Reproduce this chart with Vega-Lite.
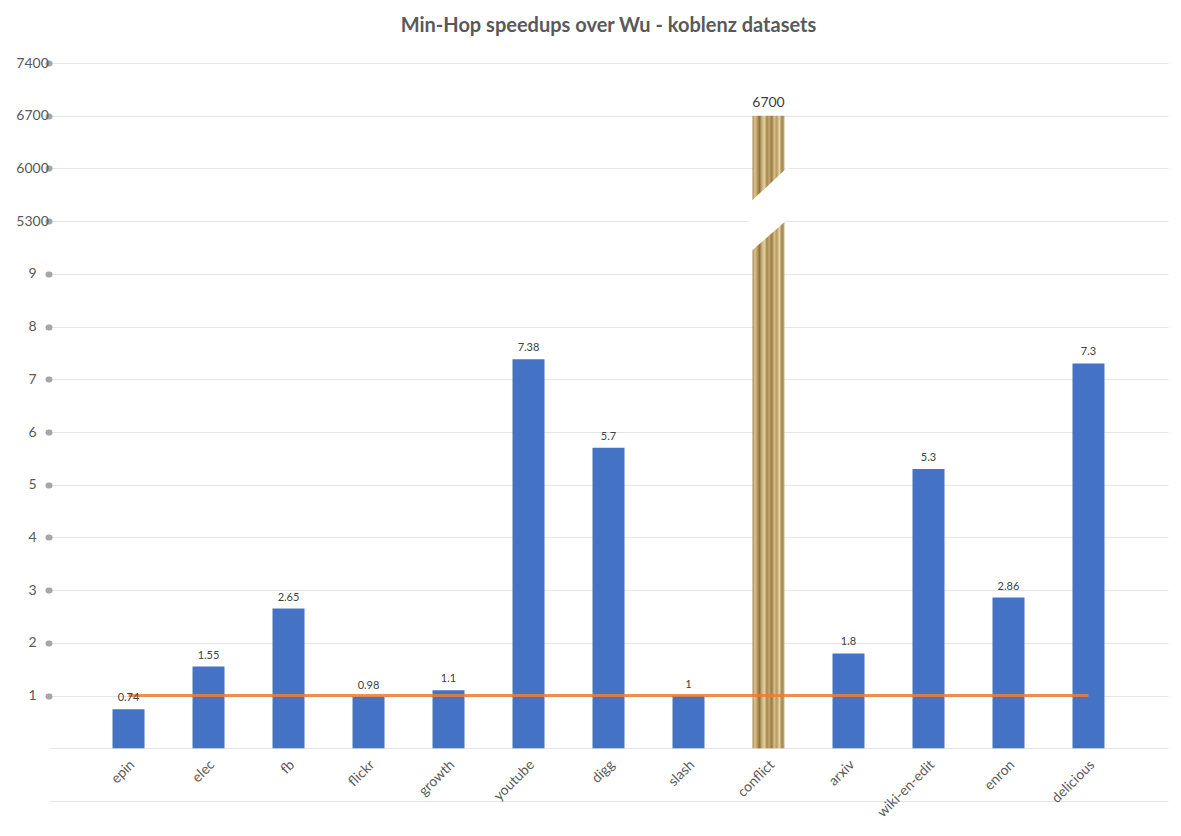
{
  "$schema": "https://vega.github.io/schema/vega-lite/v6.json",
  "width": 1119,
  "height": 738,
  "autosize": "none",
  "padding": {"left": 49, "top": 63, "right": 13, "bottom": 35},
  "background": "white",
  "title": {
    "text": "Min-Hop speedups over Wu - koblenz datasets",
    "font": "Lato",
    "fontSize": 20,
    "fontWeight": "bold",
    "color": "#595959",
    "anchor": "middle",
    "offset": 20
  },
  "config": {
    "view": {"stroke": null},
    "axis": {"labelFont": "Lato", "labelColor": "#595959", "labelFontSize": 14}
  },
  "data": {
    "values": [
      {"dataset": "epin", "speedup": 0.74},
      {"dataset": "elec", "speedup": 1.55},
      {"dataset": "fb", "speedup": 2.65},
      {"dataset": "flickr", "speedup": 0.98},
      {"dataset": "growth", "speedup": 1.1},
      {"dataset": "youtube", "speedup": 7.38},
      {"dataset": "digg", "speedup": 5.7},
      {"dataset": "slash", "speedup": 1},
      {"dataset": "conflict", "speedup": 6700},
      {"dataset": "arxiv", "speedup": 1.8},
      {"dataset": "wiki-en-edit", "speedup": 5.3},
      {"dataset": "enron", "speedup": 2.86},
      {"dataset": "delicious", "speedup": 7.3}
    ]
  },
  "transform": [
    {"calculate": "datum.speedup > 9 ? 9 + (datum.speedup - 4600) / 700 : datum.speedup", "as": "pos"}
  ],
  "encoding": {
    "x": {
      "field": "dataset",
      "type": "nominal",
      "sort": ["epin", "elec", "fb", "flickr", "growth", "youtube", "digg", "slash", "conflict", "arxiv", "wiki-en-edit", "enron", "delicious"],
      "scale": {"paddingInner": 0.6, "paddingOuter": 0.794},
      "axis": {
        "title": null,
        "labelAngle": -45,
        "labelAlign": "right",
        "labelBaseline": "middle",
        "labelOffset": 4,
        "labelPadding": 14,
        "ticks": false,
        "domain": false,
        "offset": -52.7
      }
    }
  },
  "layer": [
    {
      "mark": {"type": "bar", "color": "#4472C4"},
      "transform": [{"filter": "datum.dataset !== 'conflict'"}],
      "encoding": {
        "y": {
          "field": "pos",
          "type": "quantitative",
          "scale": {"domain": [-1, 13], "nice": false, "zero": false},
          "axis": {
            "title": null,
            "values": [-1, 0, 1, 2, 3, 4, 5, 6, 7, 8, 9, 10, 11, 12, 13],
            "labelExpr": "datum.value < 1 ? '' : (datum.value <= 9 ? '' + datum.value : '' + (4600 + (datum.value - 9) * 700))",
            "labelAlign": "center",
            "labelBaseline": "middle",
            "labelPadding": 16,
            "domain": false,
            "grid": true,
            "gridColor": "#E4E4E4",
            "gridWidth": 1,
            "tickSize": 1,
            "tickWidth": 6,
            "tickCap": "round",
            "tickColor": "#A6A6A6",
            "tickOpacity": {"condition": {"test": "datum.value < 1", "value": 0}, "value": 1}
          }
        },
        "y2": {"datum": 0}
      }
    },
    {
      "mark": {
        "type": "bar",
        "color": {
          "gradient": "linear",
          "x1": 0, "x2": 1, "y1": 0, "y2": 0,
          "stops": [
            {"offset": 0, "color": "#A98A52"},
            {"offset": 0.08, "color": "#DCC592"},
            {"offset": 0.15, "color": "#B7985C"},
            {"offset": 0.22, "color": "#8E7243"},
            {"offset": 0.3, "color": "#CFB67E"},
            {"offset": 0.38, "color": "#E3CF9C"},
            {"offset": 0.45, "color": "#A5864D"},
            {"offset": 0.52, "color": "#C4A86E"},
            {"offset": 0.6, "color": "#977A46"},
            {"offset": 0.68, "color": "#D8C088"},
            {"offset": 0.76, "color": "#B89A5E"},
            {"offset": 0.84, "color": "#E6D5A8"},
            {"offset": 0.92, "color": "#A0834D"},
            {"offset": 1, "color": "#CBB27A"}
          ]
        }
      },
      "transform": [{"filter": "datum.dataset === 'conflict'"}],
      "encoding": {
        "y": {"field": "pos", "type": "quantitative"},
        "y2": {"datum": 0}
      }
    },
    {
      "data": {
        "values": [
          {"dataset": "conflict", "level": 10.2}
        ]
      },
      "mark": {
        "type": "point",
        "filled": true,
        "color": "white",
        "opacity": 1,
        "size": 1600,
        "shape": "M -1 -0.34 L 1 -2.21 L 1 0.4 L -1 2.15 Z"
      },
      "encoding": {
        "y": {"field": "level", "type": "quantitative"}
      }
    },
    {
      "mark": {"type": "line", "color": "#ED7D31", "strokeWidth": 3, "opacity": 0.85},
      "encoding": {
        "y": {"datum": 1}
      }
    },
    {
      "mark": {"type": "text", "baseline": "bottom", "dy": -6, "font": "Lato", "color": "#404040"},
      "encoding": {
        "y": {"field": "pos", "type": "quantitative"},
        "text": {"field": "speedup", "type": "nominal"},
        "size": {"condition": {"test": "datum.dataset === 'conflict'", "value": 14}, "value": 11}
      }
    }
  ]
}
